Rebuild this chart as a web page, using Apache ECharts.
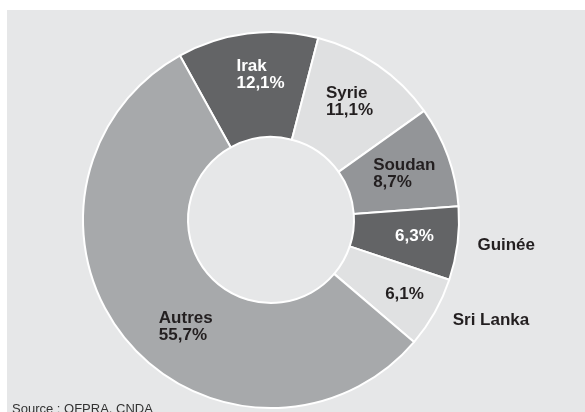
<!DOCTYPE html>
<html>
<head>
<meta charset="utf-8">
<script src="https://cdn.jsdelivr.net/npm/echarts@6/dist/echarts.min.js"></script>
<style>
  html, body { margin: 0; padding: 0; background: #fff; }
  #pie { width: 585px; height: 412px; }
</style>
</head>
<body>
<div id="pie"></div>
<script>
// data
var countries = ['Irak', 'Syrie', 'Soudan', 'Guinée', 'Sri Lanka', 'Autres'];
var shares = [12.1, 11.1, 8.7, 6.3, 6.1, 55.7];
var sliceColors = ['#636466', '#dfe0e1', '#939598', '#636466', '#e0e1e2', '#a7a9ab'];
var textColors = ['#fff', '#231f20', '#231f20', '#fff', '#231f20', '#231f20'];
var outsideNames = ['Guinée', 'Sri Lanka'];

// small label nudges so the text sits like in the print
var nudge = {
  'Irak': [7, -8], 'Syrie': [0, -4], 'Soudan': [3, 1],
  'Guinée': [6, -1], 'Sri Lanka': [13, 6], 'Autres': [22, 19]
};

function pct(v) {
  return v.toFixed(1).replace('.', ',') + '%';
}

var innerData = [], outerData = [];
countries.forEach(function (c, i) {
  innerData.push({
    name: c,
    value: shares[i],
    itemStyle: {color: sliceColors[i]},
    label: {color: textColors[i]}
  });
  outerData.push({name: c, value: shares[i]});
});

var myChart = echarts.init(document.getElementById('pie'));
myChart.setOption({
  animation: false,
  graphic: [{
    type: 'rect',
    left: 7, top: 10, z: -10,
    shape: {width: 578, height: 402},
    style: {fill: '#e6e7e8'}
  }],
  title: {
    text: 'Source : OFPRA, CNDA',
    left: 7, top: 398,
    textStyle: {fontFamily: 'Liberation Sans', fontSize: 13, fontWeight: 'normal', color: '#333'}
  },
  series: [
    {
      type: 'pie',
      center: [271, 220],
      radius: [83, 188],
      startAngle: 119,
      silent: true,
      itemStyle: {borderColor: '#fff', borderWidth: 2},
      label: {
        position: 'inside',
        fontFamily: 'Liberation Sans',
        fontWeight: 'bold',
        fontSize: 17,
        lineHeight: 17,
        formatter: function (p) {
          if (outsideNames.indexOf(p.name) >= 0) return pct(p.value);
          return p.name + '\n' + pct(p.value);
        }
      },
      labelLayout: function (p) {
        var n = nudge[countries[p.dataIndex]] || [0, 0];
        return {align: 'left', dx: -p.labelRect.width / 2 + n[0], dy: n[1]};
      },
      data: innerData
    },
    {
      type: 'pie',
      center: [271, 220],
      radius: [83, 188],
      startAngle: 119,
      silent: true,
      itemStyle: {color: 'transparent', borderWidth: 0},
      labelLine: {show: false, length: 15, length2: 0},
      label: {
        position: 'outside',
        color: '#231f20',
        fontFamily: 'Liberation Sans',
        fontWeight: 'bold',
        fontSize: 17,
        formatter: function (p) {
          return outsideNames.indexOf(p.name) >= 0 ? p.name : '';
        }
      },
      data: outerData
    }
  ]
});
</script>
</body>
</html>
